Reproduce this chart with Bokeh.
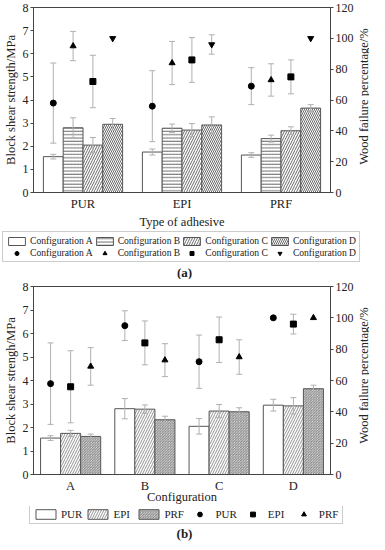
import math
from bokeh.plotting import figure
from bokeh.models import (FactorRange, Range1d, LinearAxis, Whisker, TeeHead,
                          ColumnDataSource, Legend, LegendItem, Label,
                          SingleIntervalTicker)
from bokeh.transform import dodge
from bokeh.layouts import column, row
from bokeh.embed import file_html
from bokeh.resources import INLINE

adhesives = ["PUR", "EPI", "PRF"]
configs = ["A", "B", "C", "D"]

# Block shear strength (MPa), per configuration, values for PUR, EPI, PRF
strength_A = [1.55, 1.75, 1.62]
strength_B = [2.80, 2.78, 2.33]
strength_C = [2.05, 2.70, 2.67]
strength_D = [2.95, 2.92, 3.65]
strength_err_A = [0.10, 0.13, 0.10]
strength_err_B = [0.43, 0.18, 0.15]
strength_err_C = [0.33, 0.28, 0.17]
strength_err_D = [0.25, 0.35, 0.15]

# Wood failure percentage (%), per configuration, values for PUR, EPI, PRF
wf_A = [58, 56, 69]
wf_B = [95, 84, 73]
wf_C = [72, 86, 75]
wf_D = [100, 96, 100]
wf_err_A = [26, 23, 12]
wf_err_B = [9.5, 14, 10.5]
wf_err_C = [17, 14.5, 11]
wf_err_D = [0, 6.3, 0]

strength = {"A": strength_A, "B": strength_B, "C": strength_C, "D": strength_D}
strength_err = {"A": strength_err_A, "B": strength_err_B, "C": strength_err_C, "D": strength_err_D}
wf = {"A": wf_A, "B": wf_B, "C": wf_C, "D": wf_D}
wf_err = {"A": wf_err_A, "B": wf_err_B, "C": wf_err_C, "D": wf_err_D}

FONT = "Liberation Serif"
TXT = "#222222"
EDGE = "#555555"
WHISK = "#b0b0b0"
MSIZE = 6
W = 369
WP = 356
NAN = float("nan")
RIGHT_LABEL = "Wood failure percentage/%"


def base_fig(factors, height, ylabel, xlabel, top_border, xl_standoff):
    p = figure(x_range=FactorRange(factors=factors, range_padding=0),
               y_range=Range1d(0, 8), width=WP, height=height,
               output_backend="svg", toolbar_location=None,
               min_border_left=26, min_border_right=26,
               min_border_top=top_border, min_border_bottom=20)
    p.extra_y_ranges = {"wf": Range1d(0, 120)}
    p.xgrid.visible = False
    p.ygrid.visible = False
    p.outline_line_color = "#444444"
    p.background_fill_color = "white"
    p.border_fill_color = "white"

    ya = p.yaxis[0]
    ya.ticker = SingleIntervalTicker(interval=1, num_minor_ticks=0)
    ya.axis_label = ylabel
    ra = LinearAxis(y_range_name="wf",
                    ticker=SingleIntervalTicker(interval=20, num_minor_ticks=0))
    p.add_layout(ra, "right")
    for ax in (ya, ra):
        ax.major_tick_in = 0
        ax.major_tick_out = 3
        ax.minor_tick_line_color = None
        ax.axis_line_color = "#444444"
        ax.major_tick_line_color = "#444444"
        ax.major_label_text_font = FONT
        ax.major_label_text_font_size = "12px"
        ax.major_label_text_color = TXT
        ax.major_label_standoff = 2
        ax.axis_label_text_font = FONT
        ax.axis_label_text_font_size = "12.5px"
        ax.axis_label_text_font_style = "normal"
        ax.axis_label_text_color = TXT
        ax.axis_label_standoff = 2
    xa = p.xaxis[0]
    xa.major_tick_in = 0
    xa.major_tick_out = 0
    xa.major_tick_line_color = None
    xa.minor_tick_line_color = None
    xa.axis_line_color = "#444444"
    xa.major_label_text_font = FONT
    xa.major_label_text_font_size = "12.5px"
    xa.major_label_text_color = TXT
    xa.major_label_standoff = 4
    xa.axis_label = xlabel
    xa.axis_label_text_font = FONT
    xa.axis_label_text_font_size = "12.5px"
    xa.axis_label_text_font_style = "normal"
    xa.axis_label_text_color = TXT
    xa.axis_label_standoff = xl_standoff
    return p


def blank_fig(width, height):
    f = figure(x_range=Range1d(0, 1), y_range=Range1d(0, 1), width=width, height=height,
               output_backend="svg", toolbar_location=None,
               x_axis_type=None, y_axis_type=None,
               min_border=0, min_border_left=0, min_border_right=0,
               min_border_top=0, min_border_bottom=0)
    f.frame_align = False
    f.outline_line_color = None
    f.xgrid.visible = False
    f.ygrid.visible = False
    f.background_fill_color = "white"
    f.border_fill_color = "white"
    return f


def right_label_fig(height, y):
    f = blank_fig(W - WP, height)
    f.add_layout(Label(x=7, y=y, x_units="screen", y_units="screen",
                       text=RIGHT_LABEL, angle=math.pi / 2,
                       text_align="center", text_baseline="middle",
                       text_font=FONT, text_font_size="12.5px", text_color=TXT))
    return f


def whisker(p, src, off, yname, head, level):
    kw = {}
    if yname:
        kw["y_range_name"] = yname
    w = Whisker(source=src, base=dodge("x", off, range=p.x_range),
                upper="upper", lower="lower", line_color=WHISK, line_width=1,
                upper_head=TeeHead(size=head, line_color=WHISK, line_width=1),
                lower_head=TeeHead(size=head, line_color=WHISK, line_width=1),
                level=level, **kw)
    p.add_layout(w)


def style_legend(lg, gw, gh, fs, standoff, spacing):
    lg.label_text_font = FONT
    lg.label_text_font_size = fs
    lg.label_text_color = TXT
    lg.glyph_width = gw
    lg.glyph_height = gh
    lg.label_height = gh
    lg.label_standoff = standoff
    lg.spacing = spacing
    lg.padding = 3
    lg.margin = 0
    lg.border_line_color = "#9a9a9a"
    lg.border_line_width = 1
    lg.background_fill_color = "white"
    lg.background_fill_alpha = 1


def add_caption(p, text, x, y):
    p.add_layout(Label(x=x, y=y, x_units="screen", y_units="screen", text=text,
                       text_align="center", text_baseline="middle",
                       text_font=FONT, text_font_size="13px",
                       text_font_style="bold", text_color=TXT))


def bar_style(pattern, color, scale):
    if pattern is None:
        return {}
    return dict(hatch_pattern=pattern, hatch_color=color, hatch_scale=scale,
                hatch_weight=0.8)


# ---------------- panel (a) ----------------
HA = 231
pa = base_fig(adhesives, HA, "Block shear strength/MPa", "Type of adhesive", 7, 1)
la = blank_fig(W, 48)
hatch_a = {"A": None, "B": "horizontal_line", "C": "right_diagonal_line", "D": "left_diagonal_line"}
hscale_a = {"A": 4, "B": 3.3, "C": 5, "D": 4}
markers_a = {"A": "circle", "B": "triangle", "C": "square", "D": "inverted_triangle"}
bar_items, mk_items = [], []
for i, c in enumerate(configs):
    off = (i - 1.5) * 0.2
    src = ColumnDataSource(dict(
        x=adhesives, top=strength[c],
        upper=[v + e for v, e in zip(strength[c], strength_err[c])],
        lower=[v - e for v, e in zip(strength[c], strength_err[c])]))
    kw = bar_style(hatch_a[c], "#444444", hscale_a[c])
    pa.vbar(x=dodge("x", off, range=pa.x_range), top="top", width=0.2,
            source=src, fill_color="white", line_color=EDGE, line_width=1, **kw)
    whisker(pa, src, off, None, 6, "annotation")

    keep = [k for k in range(3) if wf_err[c][k] > 0]
    wsrc = ColumnDataSource(dict(
        x=[adhesives[k] for k in keep],
        upper=[wf[c][k] + wf_err[c][k] for k in keep],
        lower=[wf[c][k] - wf_err[c][k] for k in keep]))
    whisker(pa, wsrc, off, "wf", 6, "underlay")
    msrc = ColumnDataSource(dict(x=adhesives, y=wf[c]))
    pa.scatter(x=dodge("x", off, range=pa.x_range), y="y", source=msrc,
               y_range_name="wf", marker=markers_a[c], size=MSIZE,
               fill_color="black", line_color="black")

    # legend proxies (non-drawn NaN renderers sharing the same styles)
    rb = la.vbar(x=[NAN], top=[NAN], width=0.2, fill_color="white", line_color=EDGE,
                 line_width=1, **kw)
    rm = la.scatter(x=[NAN], y=[NAN], marker=markers_a[c], size=MSIZE,
                    fill_color="black", line_color="black")
    bar_items.append(LegendItem(label="Configuration " + c, renderers=[rb]))
    mk_items.append(LegendItem(label="Configuration " + c, renderers=[rm]))

lg_a = Legend(items=bar_items + mk_items, orientation="horizontal", ncols=4,
              location=(2, 17))
style_legend(lg_a, 21, 10, "9.6px", 3, 1)
la.add_layout(lg_a)
add_caption(la, "(a)", 184, 7)
ra_a = right_label_fig(HA, 135)

# ---------------- panel (b) ----------------
HB = 227
pb = base_fig(configs, HB, "Block shear strengh/MPa", "Configuration", 7, -6)
lb = blank_fig(W, 36)
hatch_b = [None, "right_diagonal_line", "left_diagonal_line"]
hcol_b = [None, "#777777", "#666666"]
hscale_b = [4, 5, 2.6]
markers_b = ["circle", "square", "triangle"]
bar_items_b, mk_items_b = [], []
for j, a in enumerate(adhesives):
    off = (j - 1) * 0.27
    vals = [strength[c][j] for c in configs]
    errs = [strength_err[c][j] for c in configs]
    src = ColumnDataSource(dict(
        x=configs, top=vals,
        upper=[v + e for v, e in zip(vals, errs)],
        lower=[v - e for v, e in zip(vals, errs)]))
    kw = bar_style(hatch_b[j], hcol_b[j], hscale_b[j])
    pb.vbar(x=dodge("x", off, range=pb.x_range), top="top", width=0.27,
            source=src, fill_color="white", line_color=EDGE, line_width=1, **kw)
    whisker(pb, src, off, None, 6, "annotation")

    wv = [wf[c][j] for c in configs]
    we = [wf_err[c][j] for c in configs]
    keep = [k for k in range(4) if we[k] > 0]
    wsrc = ColumnDataSource(dict(
        x=[configs[k] for k in keep],
        upper=[wv[k] + we[k] for k in keep],
        lower=[wv[k] - we[k] for k in keep]))
    whisker(pb, wsrc, off, "wf", 6, "underlay")
    msrc = ColumnDataSource(dict(x=configs, y=wv))
    pb.scatter(x=dodge("x", off, range=pb.x_range), y="y", source=msrc,
               y_range_name="wf", marker=markers_b[j], size=MSIZE,
               fill_color="black", line_color="black")

    rb = lb.vbar(x=[NAN], top=[NAN], width=0.27, fill_color="white", line_color=EDGE,
                 line_width=1, **kw)
    rm = lb.scatter(x=[NAN], y=[NAN], marker=markers_b[j], size=MSIZE,
                    fill_color="black", line_color="black")
    bar_items_b.append(LegendItem(label=a, renderers=[rb]))
    mk_items_b.append(LegendItem(label=a, renderers=[rm]))

lg_b = Legend(items=bar_items_b + mk_items_b, orientation="horizontal",
              location=(29, 18))
style_legend(lg_b, 25, 12, "11px", 3, 3)
lb.add_layout(lg_b)
add_caption(lb, "(b)", 184, 9)
ra_b = right_label_fig(HB, 131)

layout = column(row(pa, ra_a, spacing=0), la, row(pb, ra_b, spacing=0), lb, spacing=0)
open("out.html", "w").write(file_html(layout, INLINE))
